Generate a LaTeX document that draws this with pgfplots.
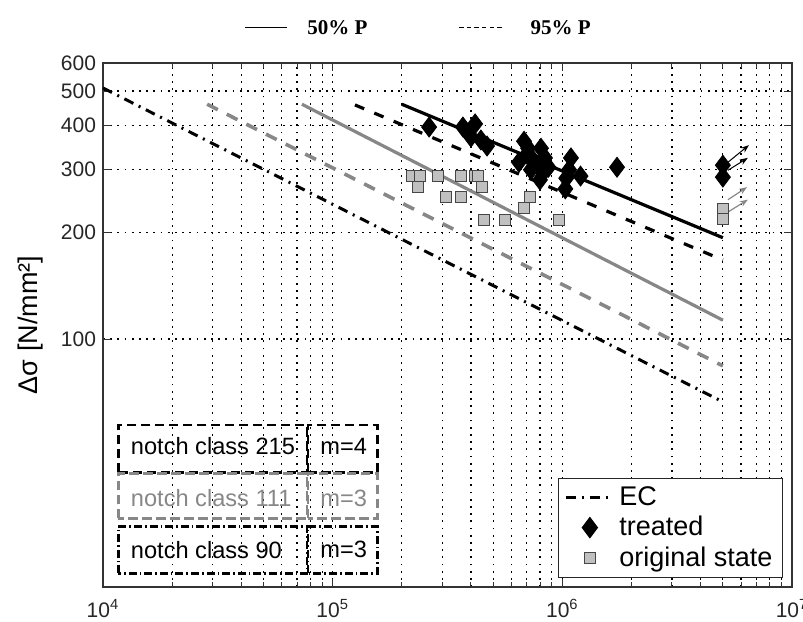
\documentclass[border=0pt]{standalone}
\usepackage{pgfplots}
\pgfplotsset{compat=1.18}
\usepackage{fontspec}
\setmainfont{Liberation Sans}
\newfontfamily\serifbf{Liberation Serif}[BoldFont={Liberation Serif Bold}]
\usetikzlibrary{arrows.meta}

\definecolor{lgrey}{RGB}{135,135,135}
\definecolor{sqfill}{RGB}{192,192,192}
\definecolor{sqedge}{RGB}{70,70,70}

\newcommand\pw[1]{10\textsuperscript{#1}}

% treated specimens: cycles N, stress range [N/mm^2]
\pgfplotstableread{
N       S
2.63e5  396
3.69e5  396
4.17e5  404
4.00e5  371
4.42e5  364
4.70e5  350
6.81e5  361
6.47e5  315
7.01e5  332
7.10e5  345
7.30e5  300
7.50e5  318
8.07e5  345
8.40e5  324
7.83e5  309
8.23e5  294
8.70e5  305
7.99e5  281
1.09e6  324
1.07e6  300
1.04e6  284
1.03e6  265
1.20e6  288
1.73e6  305
5.00e6  309
5.00e6  286
}\treated

% original state specimens
\pgfplotstableread{
N       S
2.21e5  288
2.40e5  288
2.35e5  268
2.87e5  288
3.11e5  251
3.62e5  288
3.62e5  251
4.17e5  288
4.30e5  288
4.47e5  268
4.56e5  217
5.62e5  217
7.23e5  251
6.81e5  234
9.67e5  217
5.00e6  233
5.00e6  218
}\original

\begin{document}
\begin{tikzpicture}
\path[use as bounding box] (-51.5pt,-17pt) rectangle (350pt,293.5pt);
\begin{axis}[
  scale only axis, width=344.5pt, height=262pt,
  xmode=log, ymode=log,
  xmin=1e4, xmax=1e7, ymin=20, ymax=600,
  clip=false,
  xtick={1e4,1e5,1e6,1e7},
  xticklabels={\pw{4},\pw{5},\pw{6},\pw{7}},
  minor xtick={2e4,3e4,4e4,5e4,6e4,7e4,8e4,9e4,
               2e5,3e5,4e5,5e5,6e5,7e5,8e5,9e5,
               2e6,3e6,4e6,5e6,6e6,7e6,8e6,9e6},
  ytick={100,200,300,400,500,600},
  yticklabels={100,200,300,400,500,600},
  xmajorgrids, xminorgrids, ymajorgrids,
  major grid style={black, line width=0.6pt, dash pattern=on 0.9pt off 2.7pt},
  minor grid style={black, line width=0.6pt, dash pattern=on 0.9pt off 2.7pt},
  tick align=inside,
  major tick length=4pt, minor tick length=2.5pt,
  every tick/.style={black!80, line width=0.5pt},
  axis line style={black!80, line width=0.6pt},
  ticklabel style={font=\fontsize{10.5}{12}\selectfont, text=black!85},
  xticklabel style={yshift=-2.5pt},
  ylabel={Δσ [N/mm²]},
  ylabel style={font=\fontsize{13.5}{16}\selectfont, at={(axis description cs:-0.1045,0.5)}, anchor=center},
  legend image code/.code={\draw[mark repeat=2,mark phase=2,#1] plot coordinates {(0pt,0pt) (12pt,0pt) (24pt,0pt)};},
  legend style={at={(0.987,0.017)}, anchor=south east, draw=black!85, line width=0.6pt,
                font=\fontsize{13.5}{15}\selectfont, inner xsep=3pt, inner ysep=2pt,
                row sep=0pt},
  legend cell align=left,
]
% S-N lines (mean and 95 % survival)
\addplot[forget plot, lgrey, line width=1.6pt] coordinates {(7.35e4,459) (5e6,113)};
\addplot[forget plot, lgrey, line width=1.8pt, dash pattern=on 6pt off 5pt] coordinates {(2.84e4,459) (5e6,84)};
\addplot[forget plot, black, line width=1.6pt] coordinates {(2e5,459) (5e6,193)};
\addplot[forget plot, black, line width=1.6pt, dash pattern=on 5pt off 5.5pt] coordinates {(1.25e5,457) (5e6,167)};

% Eurocode detail category 90
\addplot[black, line width=1.5pt, dash pattern=on 5pt off 3pt on 1pt off 3pt] coordinates {(1e4,510) (5e6,66.5)};
\addlegendentry{EC}

\addplot[only marks, mark=diamond*, mark size=5pt, black] table[x=N, y=S] {\treated};
\addlegendentry{treated}

\addplot[only marks, mark=square*, mark size=2.7pt, mark options={draw=sqedge, fill=sqfill, line width=0.5pt}] table[x=N, y=S] {\original};
\addlegendentry{original state}

% run-outs
\draw[black, line width=0.5pt, -{Stealth[length=4pt,width=3pt]}] (axis cs:5.26e6,315) -- (axis cs:6.49e6,352);
\draw[black, line width=0.5pt, -{Stealth[length=4pt,width=3pt]}] (axis cs:5.26e6,299) -- (axis cs:6.42e6,324);
\draw[lgrey, line width=0.6pt, -{Stealth[length=4pt,width=3pt]}] (axis cs:5.26e6,247) -- (axis cs:6.37e6,268);
\draw[lgrey, line width=0.6pt, -{Stealth[length=4pt,width=3pt]}] (axis cs:5.26e6,228) -- (axis cs:6.42e6,247);

% notch class boxes
\draw[black, line width=1.4pt, dash pattern=on 4.7pt off 2.3pt]
  (axis description cs:0.022,0.219) rectangle (axis description cs:0.296,0.309);
\draw[black, line width=1.4pt, dash pattern=on 4.7pt off 2.3pt]
  (axis description cs:0.2975,0.219) rectangle (axis description cs:0.398,0.309);
\draw[lgrey, line width=1.4pt, dash pattern=on 4.7pt off 2.3pt]
  (axis description cs:0.022,0.131) rectangle (axis description cs:0.296,0.217);
\draw[lgrey, line width=1.4pt, dash pattern=on 4.7pt off 2.3pt]
  (axis description cs:0.2975,0.131) rectangle (axis description cs:0.398,0.217);
\draw[black, line width=1.4pt, dash pattern=on 4pt off 1.5pt on 0.8pt off 1.5pt]
  (axis description cs:0.022,0.026) rectangle (axis description cs:0.296,0.115);
\draw[black, line width=1.4pt, dash pattern=on 4pt off 1.5pt on 0.8pt off 1.5pt]
  (axis description cs:0.2975,0.026) rectangle (axis description cs:0.398,0.115);
\begin{scope}[every node/.style={anchor=west, inner sep=0pt, font=\fontsize{11.8}{14}\selectfont}]
\node[text=black] at (axis description cs:0.040,0.268) {notch class 215};
\node[text=black] at (axis description cs:0.315,0.268) {m=4};
\node[text=lgrey] at (axis description cs:0.040,0.169) {notch class 111};
\node[text=lgrey] at (axis description cs:0.315,0.169) {m=3};
\node[text=black] at (axis description cs:0.040,0.071) {notch class 90};
\node[text=black] at (axis description cs:0.315,0.071) {m=3};
\end{scope}

% probability key above the plot
\draw[black, line width=0.6pt] (axis description cs:0.206,1.068) -- (axis description cs:0.267,1.068);
\draw[black, line width=0.6pt, dash pattern=on 2.2pt off 1.6pt] (axis description cs:0.517,1.068) -- (axis description cs:0.583,1.068);
\node[anchor=west, inner sep=0pt, font=\serifbf\bfseries\fontsize{10.5}{12}\selectfont] at (axis description cs:0.296,1.068) {50\% P};
\node[anchor=west, inner sep=0pt, font=\serifbf\bfseries\fontsize{10.5}{12}\selectfont] at (axis description cs:0.620,1.068) {95\% P};
\end{axis}
\end{tikzpicture}
\end{document}
